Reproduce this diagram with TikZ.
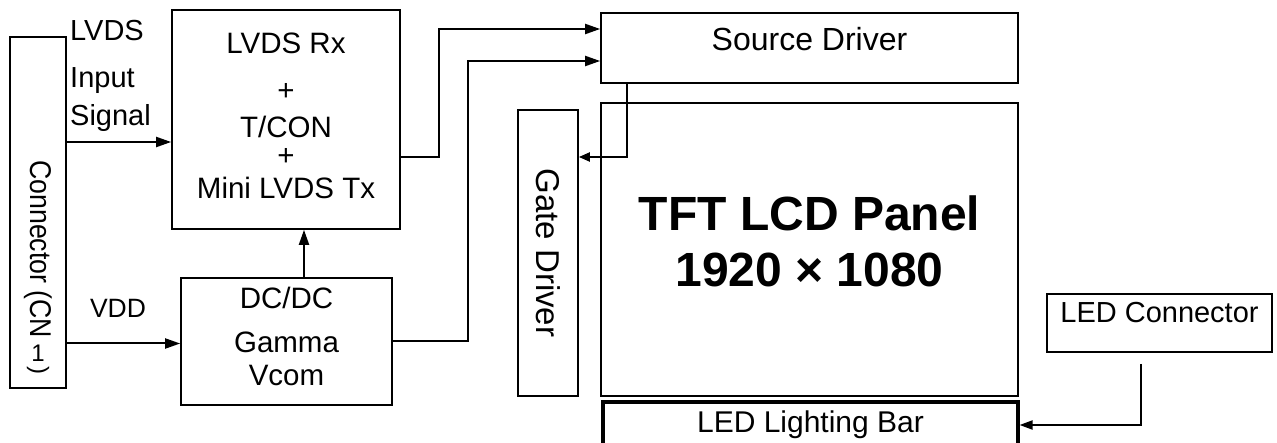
\documentclass[tikz,border=0pt]{standalone}
\usepackage{fontspec}
\setmainfont{Liberation Sans}
\usepackage{graphicx}
\usepackage{tikz}
\usetikzlibrary{positioning}
\usetikzlibrary{arrows.meta,calc}

\begin{document}
\begin{tikzpicture}[x=1pt, y=-1pt,
    box/.style={draw, line width=1.7pt, inner sep=0pt},
    arr/.style={line width=2pt, -{Triangle[length=15pt,width=10pt]}},
    small/.style={font=\fontsize{29.5}{33}\selectfont}]
    \useasboundingbox (0,0) rectangle (1277,443);

    \node (conn) at (38,212.5) [box, minimum width=56pt, minimum height=351pt] {};
    \node (conntxt) at (38,160) [anchor=north, inner sep=0pt, align=center,
        font=\fontsize{30}{36}\selectfont]
        {\rotatebox{-90}{\scalebox{0.89}[1]{Connector (CN}}\\[6pt]{\fontsize{24}{28}\selectfont 1}\\[-31pt]\rotatebox{-90}{\fontsize{24}{28}\selectfont )}};

    \node (lvds) at (286,119.5) [box, small, align=center, text depth=7pt,
        minimum width=228pt, minimum height=219pt]
        {LVDS Rx\\[14pt]+\\[4pt]T/CON\\[-5pt]+\\Mini LVDS Tx};
    \node (lvdslbl) at (70,20) [anchor=north west, inner sep=0pt, align=left,
        font=\fontsize{29}{38}\selectfont] {LVDS\\[9pt]Input\\Signal};

    \node (dcdc) at (286.5,341.5) [box, small, align=center, text depth=10pt,
        minimum width=211pt, minimum height=127pt] {DC/DC\\[11pt]Gamma\\Vcom};
    \node (vddlbl) at (118,318) [anchor=base, inner sep=0pt,
        font=\fontsize{26.5}{30}\selectfont] {VDD};

    \node (gate) at (548,253) [box, font=\fontsize{33}{38}\selectfont,
        minimum width=60pt, minimum height=286pt] {\rotatebox{-90}{Gate Driver}};
    \node (src) at (809.5,48) [box, font=\fontsize{32}{38}\selectfont,
        text height=23pt, text depth=17pt,
        minimum width=417pt, minimum height=70pt] {Source Driver};
    \node (tft) at (809.5,249.5) [box, align=center, text depth=16pt,
        font=\bfseries\fontsize{48}{56}\selectfont,
        minimum width=417pt, minimum height=293pt] {TFT LCD Panel\\1920 × 1080};
    \node (bar) at (810.5,425) [box, line width=3.2pt, font=\fontsize{30}{36}\selectfont,
        text height=21pt, text depth=7pt,
        minimum width=415pt, minimum height=46pt] {LED Lighting Bar};
    \node (ledc) at (1159.5,323) [box, font=\fontsize{29}{34}\selectfont,
        text height=21pt, text depth=21pt,
        minimum width=225pt, minimum height=58pt] {LED Connector};

    \coordinate (sigin) at ($(lvds.west)+(0,22.5)$);
    \coordinate (vddin) at ($(dcdc.west)+(0,2)$);
    \coordinate (dcup) at ($(dcdc.north)+(17.5,0)$);
    \coordinate (txout) at ($(lvds.east)+(0,37.5)$);
    \coordinate (srcin1) at ($(src.west)+(0,-19)$);
    \coordinate (srcin2) at ($(src.west)+(0,13)$);
    \coordinate (srcout) at ($(src.south)+(-182.5,0)$);
    \coordinate (gatein) at ($(gate.east)+(0,-96)$);
    \coordinate (ledout) at ($(ledc.south)+(-18.5,11)$);

    \draw[arr] (conn.east |- sigin) -- (sigin);
    \draw[arr] (conn.east |- vddin) -- (vddin);
    \draw[arr] (dcup) -- (dcup |- lvds.south);
    \draw[arr] (txout) -- ++(38,0) |- (srcin1);
    \draw[arr] (dcdc.east) -- ++(75.5,0) |- (srcin2);
    \draw[arr, -{Triangle[length=11pt,width=9pt]}] (srcout) |- (gatein);
    \draw[arr, -{Triangle[length=13pt,width=9pt]}] (ledout) |- (bar.east);
\end{tikzpicture}
\end{document}
